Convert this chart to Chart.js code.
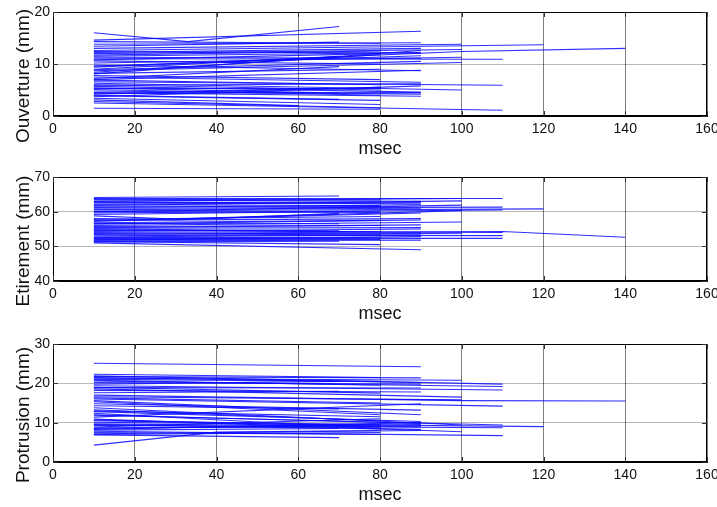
<!DOCTYPE html>
<html>
<head>
<meta charset="utf-8">
<script src="https://cdn.jsdelivr.net/npm/chart.js@4.4.1/dist/chart.umd.min.js"></script>
<style>
  html, body { margin: 0; padding: 0; background: #fff; overflow: hidden; }
  .panel { position: absolute; left: 0; }
</style>
</head>
<body>
<div class="panel" style="top:0px"><canvas id="ouverture" width="740" height="162"></canvas></div>
<div class="panel" style="top:165px"><canvas id="etirement" width="740" height="162"></canvas></div>
<div class="panel" style="top:332px"><canvas id="protrusion" width="740" height="176"></canvas></div>
<script>
// every trace starts at 10 msec
const START_X = 10;
const xTicks = [0, 20, 40, 60, 80, 100, 120, 140, 160];

// Ouverture (mm)
const ouvStart = [16.0, 14.6, 14.3, 13.8, 13.4, 13.0, 12.6, 12.4, 12.0, 11.7, 11.3, 11.0, 10.6, 10.2, 9.8, 9.4, 9.0, 8.7, 8.4, 8.1, 7.8, 7.5, 7.2, 6.9, 6.6, 6.3, 6.0, 5.7, 5.4, 5.1, 4.8, 4.5, 4.2, 4.0, 3.7, 3.4, 3.1, 2.5, 1.5,
  12.2, 11.5, 10.8, 9.6, 8.9, 8.2, 7.0, 5.9, 5.3, 4.4, 3.9, 2.8];
const ouvEndX = [70, 90, 80, 90, 70, 100, 120, 90, 100, 80, 90, 110, 80, 100, 90, 140, 70, 100, 80, 90, 80, 90, 70, 80, 110, 100, 80, 90, 70, 80, 90, 90, 80, 70, 90, 80, 60, 110, 80,
  90, 90, 80, 90, 90, 80, 90, 90, 80, 90, 80, 80];
const ouvEndY = [17.2, 16.3, 14.0, 14.1, 14.2, 13.8, 13.7, 12.1, 12.8, 12.5, 11.1, 10.9, 10.0, 11.3, 8.7, 13.0, 11.5, 10.3, 11.8, 12.6, 7.0, 6.5, 9.5, 6.0, 5.9, 5.0, 5.0, 4.6, 4.4, 4.0, 4.2, 3.8, 5.5, 3.2, 5.8, 2.2, 2.0, 1.1, 1.3,
  13.0, 12.2, 12.0, 11.6, 10.5, 9.0, 8.8, 6.2, 5.3, 4.5, 3.0, 1.6];
const ouvBends = [[0, 33, 14.3], [15, 100, 12.4]]; // [trace, x, y]
const ouvTicks = [0, 10, 20];

// Etirement (mm)
const etiStart = [64.1, 63.8, 63.4, 63.0, 62.6, 62.2, 61.8, 61.4, 61.0, 60.6, 60.2, 59.9, 59.6, 59.2, 58.8, 58.0, 57.5, 57.2, 56.8, 56.4, 56.0, 55.7, 55.4, 55.0, 54.6, 54.3, 54.0, 53.7, 53.3, 53.0, 52.7, 52.3, 52.0, 51.6, 51.3, 51.0,
  63.6, 62.9, 62.0, 61.2, 60.0, 57.8, 56.6, 55.2, 54.8, 53.5, 52.5, 51.8, 51.4];
const etiEndX = [70, 110, 90, 100, 80, 90, 100, 80, 110, 90, 120, 100, 110, 80, 90, 70, 90, 100, 80, 90, 100, 80, 90, 70, 110, 90, 80, 140, 110, 100, 90, 110, 80, 90, 70, 90,
  80, 90, 80, 90, 80, 80, 70, 90, 80, 90, 80, 90, 80];
const etiEndY = [64.5, 63.8, 63.0, 63.8, 62.8, 62.6, 63.1, 61.5, 61.3, 61.0, 60.8, 61.9, 60.5, 60.2, 59.6, 59.5, 58.0, 60.3, 57.5, 57.6, 57.0, 56.0, 56.2, 54.5, 54.0, 55.0, 53.5, 52.6, 53.1, 53.8, 53.3, 52.3, 52.0, 51.8, 51.5, 49.0,
  63.4, 62.2, 61.8, 62.0, 59.8, 58.6, 56.5, 55.4, 54.2, 53.9, 52.6, 52.8, 50.5];
const etiBends = [[14, 30, 57.9], [15, 30, 57.6], [27, 110, 54.3]];
const etiTicks = [40, 50, 60, 70];

// Protrusion (mm)
const proStart = [25.1, 22.3, 21.9, 21.7, 21.3, 21.0, 20.6, 20.2, 19.8, 19.4, 19.0, 18.6, 18.2, 17.6, 17.0, 16.6, 16.0, 15.3, 14.8, 14.3, 13.8, 13.3, 12.8, 12.4, 11.9, 11.4, 10.9, 10.5, 10.1, 9.7, 9.3, 8.9, 8.5, 8.1, 7.8, 7.5, 7.2, 6.9, 4.3,
  21.5, 20.8, 18.9, 16.3, 15.6, 13.0, 12.0, 10.7, 9.5, 8.7, 8.3, 7.0];
const proEndX = [90, 80, 110, 90, 100, 80, 110, 90, 70, 110, 80, 100, 90, 70, 140, 100, 110, 80, 90, 70, 100, 80, 90, 80, 110, 90, 100, 80, 120, 90, 110, 80, 90, 70, 110, 80, 90, 70, 80,
  90, 80, 90, 80, 90, 80, 90, 80, 90, 80, 90, 80];
const proEndY = [24.2, 21.5, 19.8, 21.4, 20.8, 20.5, 19.2, 19.8, 20.5, 18.3, 17.5, 16.5, 17.8, 18.0, 15.5, 15.8, 14.2, 12.0, 13.2, 13.5, 9.4, 10.5, 10.3, 8.5, 9.4, 14.8, 7.7, 9.5, 9.0, 9.0, 8.7, 11.0, 9.5, 8.5, 6.7, 7.0, 8.0, 6.2, 8.0,
  20.2, 19.5, 18.8, 15.0, 12.0, 11.5, 9.8, 9.0, 8.3, 8.9, 10.0, 7.5];
const proBends = [[14, 100, 15.6], [38, 40, 7.6]];
const proTicks = [0, 10, 20, 30];

const FONT = "'Liberation Sans', Arial, Helvetica, sans-serif";
const LINE_COLOR = 'rgba(10, 10, 255, 0.85)';

function buildDatasets(start, endX, endY, bends) {
  return start.map((y0, i) => {
    const pts = [{ x: START_X, y: y0 }];
    bends.filter(b => b[0] === i).forEach(b => pts.push({ x: b[1], y: b[2] }));
    pts.push({ x: endX[i], y: endY[i] });
    return {
      data: pts,
      borderColor: LINE_COLOR,
      borderWidth: 1.1,
      pointRadius: 0,
      tension: 0,
      fill: false
    };
  });
}

// matlab style box with inward tick marks, and the y label (sits a bit low in the original)
const boxPlugin = {
  id: 'box',
  afterDraw(chart, args, opts) {
    const { ctx, chartArea: a, scales } = chart;
    ctx.save();
    ctx.strokeStyle = '#000';
    ctx.lineWidth = 1;
    ctx.strokeRect(a.left + 0.5, a.top + 0.5, a.width - 1, a.height - 1);
    ctx.strokeStyle = '#333';
    ctx.beginPath();
    scales.x.ticks.forEach(t => {
      const px = Math.round(scales.x.getPixelForValue(t.value)) + 0.5;
      ctx.moveTo(px, a.top); ctx.lineTo(px, a.top + 5);
      ctx.moveTo(px, a.bottom); ctx.lineTo(px, a.bottom - 5);
    });
    scales.y.ticks.forEach(t => {
      const py = Math.round(scales.y.getPixelForValue(t.value)) + 0.5;
      ctx.moveTo(a.left, py); ctx.lineTo(a.left + 5, py);
      ctx.moveTo(a.right, py); ctx.lineTo(a.right - 5, py);
    });
    ctx.stroke();

    ctx.translate(24, (a.top + a.bottom) / 2 + 12);
    ctx.rotate(-Math.PI / 2);
    ctx.fillStyle = '#111';
    ctx.font = `19px ${FONT}`;
    ctx.textAlign = 'center';
    ctx.textBaseline = 'middle';
    ctx.fillText(opts.label, 0, 0);
    ctx.restore();
  }
};

function makePanel(id, title, yTicks, datasets) {
  const canvas = document.getElementById(id);
  new Chart(canvas, {
    type: 'line',
    data: { datasets },
    options: {
      responsive: false,
      animation: false,
      layout: { padding: { left: 0, right: 33, top: 12, bottom: 0 } },
      plugins: { legend: { display: false }, tooltip: { enabled: false }, box: { label: title } },
      scales: {
        x: {
          type: 'linear',
          min: xTicks[0],
          max: xTicks[xTicks.length - 1],
          afterBuildTicks: s => { s.ticks = xTicks.map(v => ({ value: v })); },
          afterFit: s => { s.height = 46; },
          grid: { color: 'rgba(0,0,0,0.5)', drawTicks: false },
          border: { color: '#000' },
          ticks: { color: '#111', padding: 5, font: { family: FONT, size: 14 }, maxRotation: 0 },
          title: { display: true, text: 'msec', color: '#111', padding: { top: 0, bottom: 2 }, font: { family: FONT, size: 18 } }
        },
        y: {
          type: 'linear',
          min: yTicks[0],
          max: yTicks[yTicks.length - 1],
          afterBuildTicks: s => { s.ticks = yTicks.map(v => ({ value: v })); },
          afterFit: s => { s.width = 53; },
          grid: { color: 'rgba(0,0,0,0.28)', drawTicks: false },
          border: { color: '#000' },
          ticks: { color: '#111', padding: 3, font: { family: FONT, size: 14 } }
        }
      }
    },
    plugins: [boxPlugin]
  });
}

makePanel('ouverture', 'Ouverture (mm)', ouvTicks, buildDatasets(ouvStart, ouvEndX, ouvEndY, ouvBends));
makePanel('etirement', 'Etirement (mm)', etiTicks, buildDatasets(etiStart, etiEndX, etiEndY, etiBends));
makePanel('protrusion', 'Protrusion (mm)', proTicks, buildDatasets(proStart, proEndX, proEndY, proBends));
</script>
</body>
</html>
